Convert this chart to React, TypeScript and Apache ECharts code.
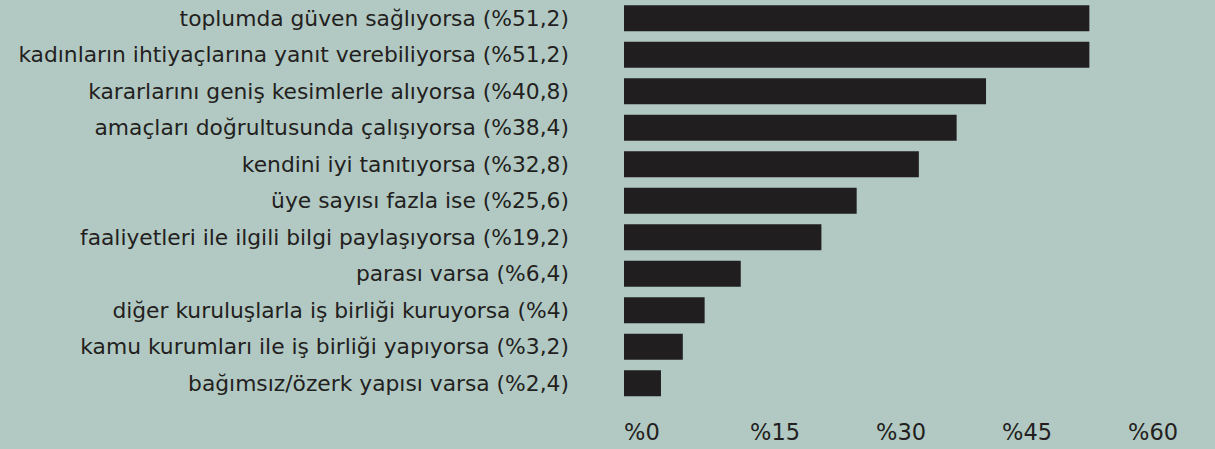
import React, { useEffect, useRef } from "react";
import * as echarts from "echarts";

// Category names (top to bottom)
const categories: string[] = [
  "toplumda güven sağlıyorsa",
  "kadınların ihtiyaçlarına yanıt verebiliyorsa",
  "kararlarını geniş kesimlerle alıyorsa",
  "amaçları doğrultusunda çalışıyorsa",
  "kendini iyi tanıtıyorsa",
  "üye sayısı fazla ise",
  "faaliyetleri ile ilgili bilgi paylaşıyorsa",
  "parası varsa",
  "diğer kuruluşlarla iş birliği kuruyorsa",
  "kamu kurumları ile iş birliği yapıyorsa",
  "bağımsız/özerk yapısı varsa",
];

// Percentages printed in the labels
const percents: number[] = [51.2, 51.2, 40.8, 38.4, 32.8, 25.6, 19.2, 6.4, 4, 3.2, 2.4];

const barValues: number[] = [55.4, 55.4, 43.1, 39.6, 35.1, 27.7, 23.5, 13.9, 9.6, 7.0, 4.4];

// Axis ticks
const axisMin = 0;
const axisMax = 60;
const axisStep = 15;

const labels = categories.map(
  (c, i) => `${c} (%${String(percents[i]).replace(".", ",")})`
);

export default function App() {
  const ref = useRef<HTMLDivElement>(null);
  useEffect(() => {
    document.body.style.margin = "0";
    if (!ref.current) return;
    const chart = echarts.init(ref.current, undefined, { renderer: "svg" });
    chart.setOption({
      animation: false,
      backgroundColor: "#b2c9c3",
      textStyle: { fontFamily: "DejaVu Sans" },
      grid: { left: 624, right: 87, top: 0, bottom: 47.5, containLabel: false },
      xAxis: {
        type: "value",
        min: axisMin,
        max: axisMax,
        interval: axisStep,
        axisLine: { show: false },
        axisTick: { show: false },
        splitLine: { show: false },
        axisLabel: {
          formatter: "%{value}",
          align: "left",
          margin: 19,
          color: "#231f20",
          fontSize: 22.5,
          fontFamily: "DejaVu Sans",
        },
      },
      yAxis: {
        type: "category",
        inverse: true,
        data: labels,
        axisLine: { show: false },
        axisTick: { show: false },
        splitLine: { show: false },
        axisLabel: {
          margin: 55,
          color: "#231f20",
          fontSize: 21.8,
          fontFamily: "DejaVu Sans",
        },
      },
      series: [
        {
          type: "bar",
          data: barValues,
          barWidth: 26,
          itemStyle: { color: "#201e1f" },
          silent: true,
        },
      ],
    });
    return () => chart.dispose();
  }, []);
  return <div ref={ref} style={{ width: 1215, height: 449 }} />;
}
